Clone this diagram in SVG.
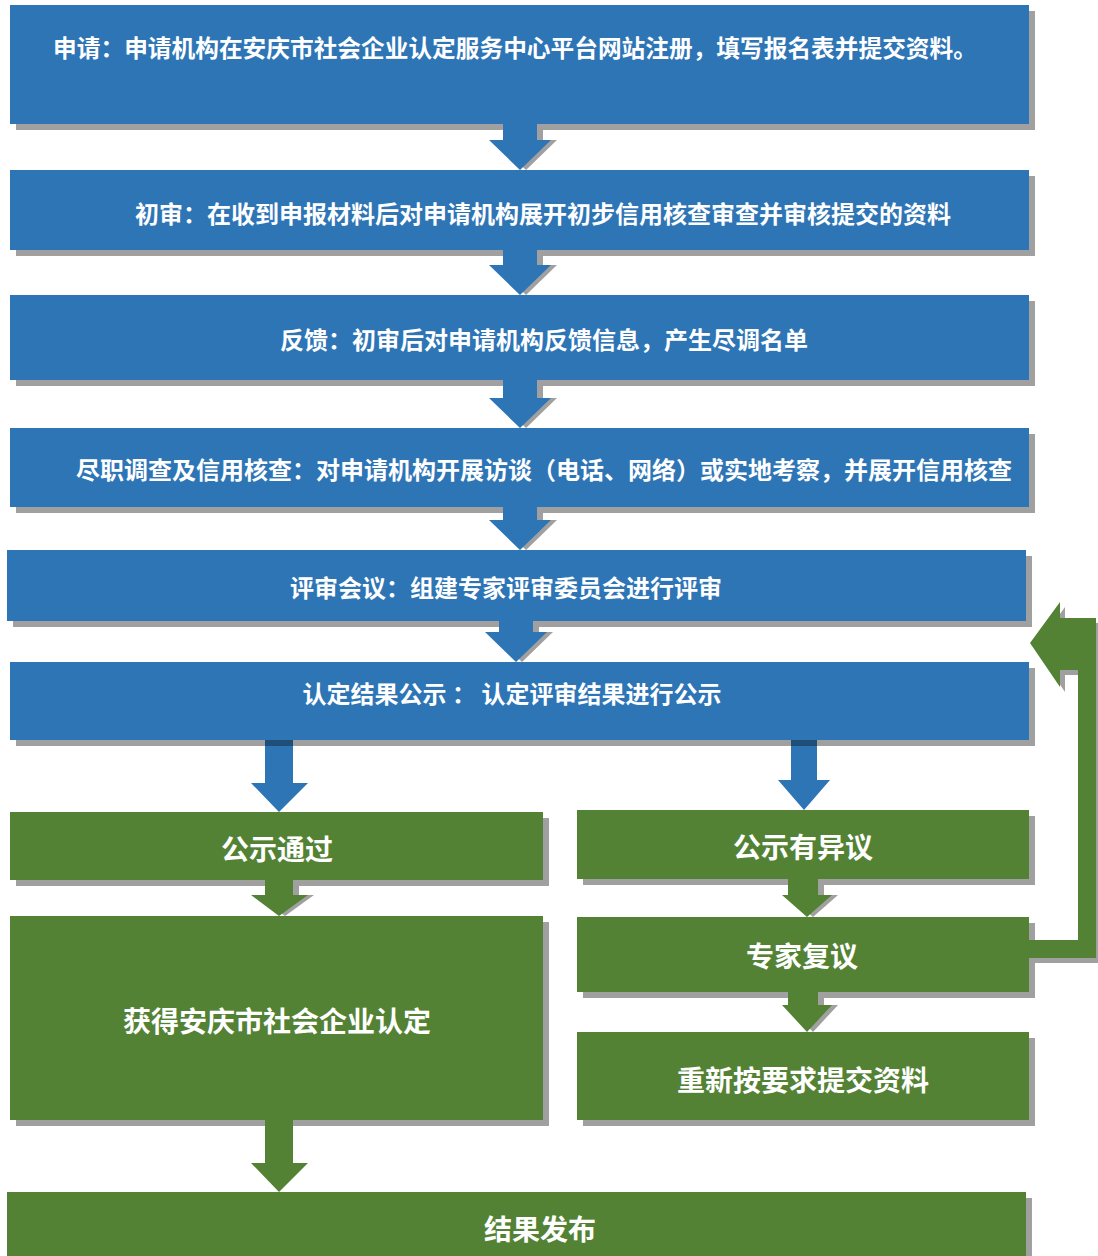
<svg xmlns="http://www.w3.org/2000/svg" width="1098" height="1256" viewBox="0 0 1098 1256">
<style>
.bg{fill:#ffffff}
.sh{fill:#a0a0a0}
.blue{fill:#2e75b6}
.green{fill:#548235}
.dark{fill:#1f4e79}
.t{font-family:"Noto Sans CJK SC","Noto Sans",sans-serif;font-weight:bold;fill:#ffffff;text-anchor:middle;dominant-baseline:central}
.tb{font-size:24px}
.tg{font-size:28px}
</style>
<rect class="bg" x="0" y="0" width="1098" height="1256"/>
<g id="shadows">
<rect class="sh" x="16" y="11" width="1019" height="119"/>
<rect class="sh" x="16" y="176" width="1019" height="80"/>
<rect class="sh" x="16" y="301" width="1019" height="85"/>
<rect class="sh" x="16" y="434" width="1019" height="79"/>
<rect class="sh" x="13" y="556" width="1019" height="71"/>
<rect class="sh" x="16" y="668" width="1019" height="78"/>
<rect class="sh" x="16" y="818" width="533" height="68"/>
<rect class="sh" x="583" y="816" width="452" height="69"/>
<rect class="sh" x="16" y="922" width="533" height="204"/>
<rect class="sh" x="583" y="923" width="452" height="75"/>
<rect class="sh" x="583" y="1038" width="452" height="88"/>
<rect class="sh" x="13" y="1198" width="1019" height="64"/>
</g>
<g id="connectors">
<polygon class="sh" points="509,124 543,124 543,140 557,140 526,170 495,140 509,140"/>
<polygon class="sh" points="509,250 543,250 543,265 557,265 526,295 495,265 509,265"/>
<polygon class="sh" points="509,380 543,380 543,398 557,398 526,428 495,398 509,398"/>
<polygon class="sh" points="509,507 543,507 543,520 557,520 526,550 495,520 509,520"/>
<polygon class="sh" points="505,621 539,621 539,632 553,632 522,662 491,632 505,632"/>
<polygon class="blue" points="503,124 537,124 537,140 551,140 520,170 489,140 503,140"/>
<polygon class="blue" points="503,250 537,250 537,265 551,265 520,295 489,265 503,265"/>
<polygon class="blue" points="503,380 537,380 537,398 551,398 520,428 489,398 503,398"/>
<polygon class="blue" points="503,507 537,507 537,520 551,520 520,550 489,520 503,520"/>
<polygon class="blue" points="499,621 533,621 533,632 547,632 516,662 485,632 499,632"/>
<polygon class="blue" points="265,740 293,740 293,783 308,783 279,812 251,783 265,783"/>
<rect class="dark" x="265" y="740" width="28" height="6"/>
<polygon class="blue" points="791,740 817,740 817,780 830,780 804,810 778,780 791,780"/>
<rect class="dark" x="791" y="740" width="26" height="6"/>
<polygon class="sh" points="271,880 299,880 299,895 314,895 285,916 257,895 271,895"/>
<polygon class="sh" points="794,879 824,879 824,895 838,895 813,917 788,895 794,895"/>
<polygon class="sh" points="794,992 824,992 824,1005 838,1005 813,1032 788,1005 794,1005"/>
<polygon class="green" points="265,880 293,880 293,895 308,895 279,916 251,895 265,895"/>
<polygon class="green" points="788,879 818,879 818,895 832,895 807,917 782,895 788,895"/>
<polygon class="green" points="788,992 818,992 818,1005 832,1005 807,1032 782,1005 788,1005"/>
<polygon class="green" points="265,1120 293,1120 293,1163 308,1163 279,1192 251,1163 265,1163"/>
<polygon class="sh" points="1035,648 1065,607 1065,623 1101,623 1101,963 1034,963 1034,945 1083,945 1083,675 1065,675 1065,692"/>
<polygon class="green" points="1030,643 1060,602 1060,618 1096,618 1096,958 1029,958 1029,940 1078,940 1078,670 1060,670 1060,687"/>
</g>
<g id="n1"><rect class="blue" x="10" y="5" width="1019" height="119"/><text class="t" style="font-size:23.7px" x="515" y="47">申请：申请机构在安庆市社会企业认定服务中心平台网站注册，填写报名表并提交资料。</text></g>
<g id="n2"><rect class="blue" x="10" y="170" width="1019" height="80"/><text class="t tb" x="543" y="212">初审：在收到申报材料后对申请机构展开初步信用核查审查并审核提交的资料</text></g>
<g id="n3"><rect class="blue" x="10" y="295" width="1019" height="85"/><text class="t tb" x="544" y="338">反馈：初审后对申请机构反馈信息，产生尽调名单</text></g>
<g id="n4"><rect class="blue" x="10" y="428" width="1019" height="79"/><text class="t tb" x="544" y="468">尽职调查及信用核查：对申请机构开展访谈（电话、网络）或实地考察，并展开信用核查</text></g>
<g id="n5"><rect class="blue" x="7" y="550" width="1019" height="71"/><text class="t tb" x="506" y="586">评审会议：组建专家评审委员会进行评审</text></g>
<g id="n6"><rect class="blue" x="10" y="662" width="1019" height="78"/><text class="t tb" x="512" y="692">认定结果公示 ： 认定评审结果进行公示</text></g>
<g id="n7"><rect class="green" x="10" y="812" width="533" height="68"/><text class="t tg" x="277" y="848">公示通过</text></g>
<g id="n8"><rect class="green" x="577" y="810" width="452" height="69"/><text class="t tg" x="803" y="846">公示有异议</text></g>
<g id="n9"><rect class="green" x="10" y="916" width="533" height="204"/><text class="t tg" x="277" y="1020">获得安庆市社会企业认定</text></g>
<g id="n10"><rect class="green" x="577" y="917" width="452" height="75"/><text class="t tg" x="802" y="955">专家复议</text></g>
<g id="n11"><rect class="green" x="577" y="1032" width="452" height="88"/><text class="t tg" x="803" y="1079">重新按要求提交资料</text></g>
<g id="n12"><rect class="green" x="7" y="1192" width="1019" height="64"/><text class="t tg" x="540" y="1228">结果发布</text></g>
</svg>
